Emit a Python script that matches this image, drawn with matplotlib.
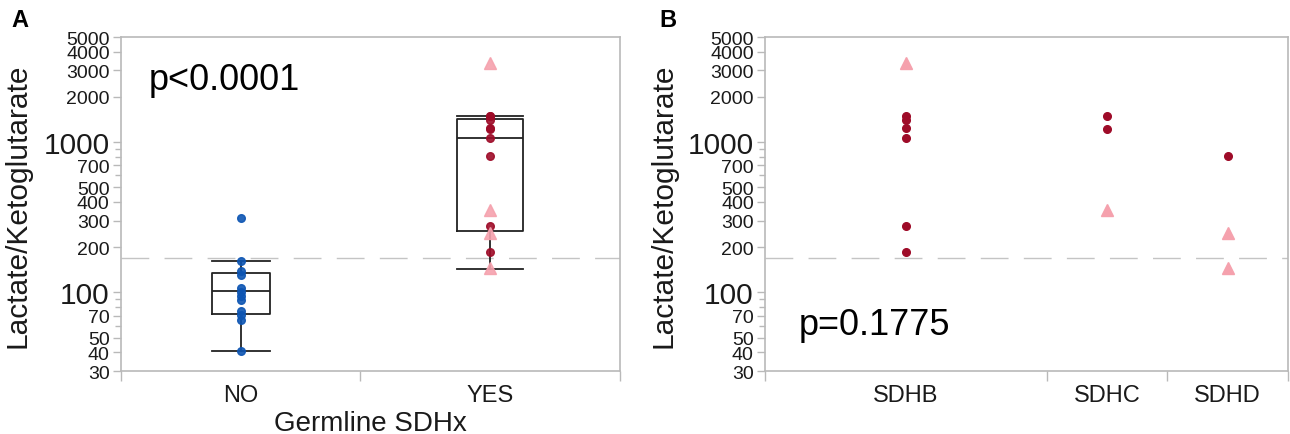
import matplotlib
matplotlib.use("Agg")
import matplotlib.pyplot as plt
import numpy as np

plt.rcParams['font.family'] = ['Liberation Sans', 'DejaVu Sans']

# ---- data ----
no_vals = [311, 163, 139, 131, 107, 101, 95, 89, 75, 71, 66, 41]

genes = ['SDHB', 'SDHC', 'SDHD']
gene_circles = [[1500, 1400, 1250, 1070, 276, 187], [1500, 1215], [810]]
gene_triangles = [[3350], [356], [247, 145]]

groups = ['NO', 'YES']
box_q1 = [72, 256]
box_med = [102, 1063]
box_q3 = [134, 1432]
whis_lo = [40.5, 143]
whis_hi = [163, 1500]

cutoff = 170
p_text_a = 'p<0.0001'
p_text_b = 'p=0.1775'

major_ticks = [30, 40, 50, 70, 100, 200, 300, 400, 500, 700, 1000, 2000, 3000, 4000, 5000]
minor_ticks = [60, 80, 90, 600, 800, 900]

# ---- styling ----
BLUE = '#0d55b3'
DRED = '#9e0b28'
PINK = '#f5a1ad'
GREY = '#b9b9b9'
TXT = '#1a1a1a'

fig = plt.figure(figsize=(12.9, 4.35), dpi=100)
axA = fig.add_axes([0.0936, 0.1448, 0.387, 0.7678])
axB = fig.add_axes([0.593, 0.1448, 0.4054, 0.7678])


def style_axis(ax, counts, labels, label_x):
    ax.set_yscale('log')
    ax.set_ylim(30, 5000)
    edges = np.concatenate([[0], np.cumsum(counts)])
    centers = (edges[:-1] + edges[1:]) / 2
    ax.set_xlim(edges[0], edges[-1])
    ax.set_yticks(major_ticks)
    ax.set_yticklabels([str(t) for t in major_ticks])
    ax.set_yticks(minor_ticks, minor=True)
    ax.yaxis.set_minor_formatter(matplotlib.ticker.NullFormatter())
    for lab, t in zip(ax.get_yticklabels(), major_ticks):
        lab.set_fontsize(21.5 if t in (100, 1000) else 14)
        lab.set_color(TXT)
    ax.tick_params(axis='y', which='major', length=6, width=1, color=GREY, pad=2)
    ax.tick_params(axis='y', which='minor', length=4, width=1, color=GREY)
    ax.set_xticks(centers)
    ax.set_xticklabels(labels, fontsize=17, color=TXT)
    ax.set_xticks(edges, minor=True)
    ax.tick_params(axis='x', which='major', length=0, pad=9)
    ax.tick_params(axis='x', which='minor', length=7, width=1, color=GREY)
    for sp in ax.spines.values():
        sp.set_color(GREY)
        sp.set_linewidth(1.2)
    ax.axhline(cutoff, color='#c4c4c4', lw=1, dashes=(20, 11), zorder=1)
    ax.set_ylabel('Lactate/Ketoglutarate', fontsize=21.5, color=TXT)
    ax.yaxis.set_label_coords(label_x, 0.497)
    return centers


# ---- panel A ----
yes_circles = sum(gene_circles, [])
yes_triangles = sum(gene_triangles, [])
cA = style_axis(axA, [len(no_vals), len(yes_circles) + len(yes_triangles)], groups, -0.178)

stats = []
for i in range(2):
    stats.append(dict(med=box_med[i], q1=box_q1[i], q3=box_q3[i],
                      whislo=whis_lo[i], whishi=whis_hi[i], fliers=[]))
widths = [2.9, 3.3]
lp = dict(color='#222222', lw=1.3)
axA.bxp(stats, positions=cA, widths=widths, capwidths=widths, showfliers=False,
        boxprops=lp, whiskerprops=lp, capprops=lp, medianprops=lp,
        manage_ticks=False, zorder=2)

axA.plot([cA[0]] * len(no_vals), no_vals, 'o', color=BLUE, ms=5.5, alpha=0.9, zorder=3)
axA.plot([cA[1]] * len(yes_circles), yes_circles, 'o', color=DRED, ms=5.5, alpha=0.9, zorder=3)
axA.plot([cA[1]] * len(yes_triangles), yes_triangles, '^', color=PINK, ms=9, alpha=0.9, zorder=3)
axA.text(0.057, 0.874, p_text_a, transform=axA.transAxes, fontsize=26, va='center', ha='left')
axA.set_xlabel('Germline SDHx', fontsize=20, labelpad=3, color=TXT)

# ---- panel B ----
counts_b = [len(c) + len(t) for c, t in zip(gene_circles, gene_triangles)]
cB = style_axis(axB, counts_b, genes, -0.168)
for x, circ, tri in zip(cB, gene_circles, gene_triangles):
    axB.plot([x] * len(circ), circ, 'o', color=DRED, ms=5.5, zorder=3)
    axB.plot([x] * len(tri), tri, '^', color=PINK, ms=9, zorder=3)
axB.text(0.065, 0.14, p_text_b, transform=axB.transAxes, fontsize=26, va='center', ha='left')

fig.text(0.009, 0.953, 'A', fontsize=17, fontweight='bold', va='center')
fig.text(0.511, 0.953, 'B', fontsize=17, fontweight='bold', va='center')

fig.savefig('out.png', dpi=100)
